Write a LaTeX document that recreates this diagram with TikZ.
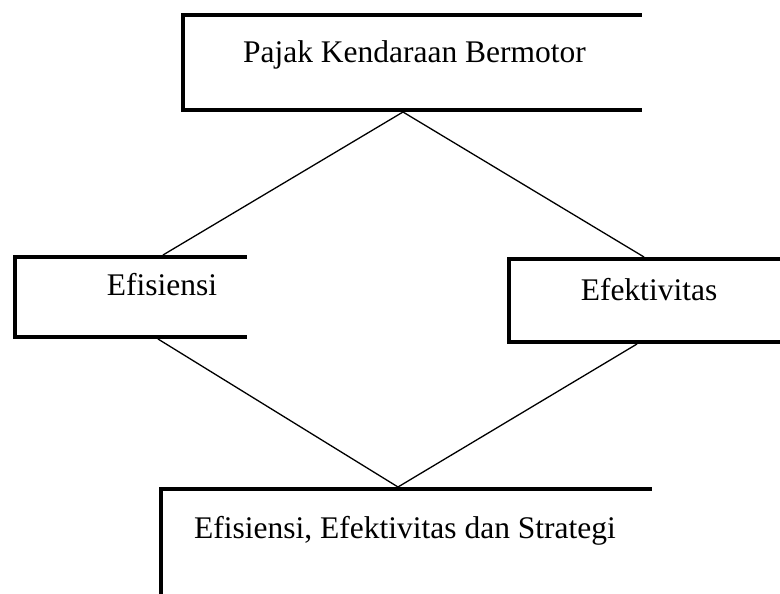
\documentclass[tikz,border=0pt]{standalone}
\usepackage{fontspec}
\setmainfont{Liberation Serif}
\begin{document}
\begin{tikzpicture}[x=1pt,y=-1pt,
  boxline/.style={line width=4.5pt,line cap=rect,line join=miter},
  conn/.style={line width=1.3pt},
  lbl/.style={anchor=base,inner sep=0pt,font=\fontsize{31.5}{36}\selectfont}]
\useasboundingbox (0,0) rectangle (780,594);
% boxes (left, top and bottom sides)
\draw[boxline] (640,15) -- (183,15) -- (183,110) -- (640,110);
\draw[boxline] (245,257) -- (15,257) -- (15,337) -- (245,337);
\draw[boxline] (782,259) -- (509,259) -- (509,342) -- (782,342);
\draw[boxline] (650,489) -- (161,489) -- (161,600);
% texts
\node[lbl] (pkb) at (414.5,63) {Pajak Kendaraan Bermotor};
\node[lbl] (efi) at (162,295) {Efisiensi};
\node[lbl] (efk) at (649,300) {Efektivitas};
\node[lbl] (str) at (405,538) {Efisiensi, Efektivitas dan Strategi};
% connector ends
\coordinate (pkbB) at (403,112);
\coordinate (efiT) at (163,255);
\coordinate (efiB) at (158,339);
\coordinate (efkT) at (644,257);
\coordinate (efkB) at (637,344);
\coordinate (strT) at (398,487);
\draw[conn] (efiT) -- (pkbB) -- (efkT);
\draw[conn] (efiB) -- (strT) -- (efkB);
\end{tikzpicture}
\end{document}
